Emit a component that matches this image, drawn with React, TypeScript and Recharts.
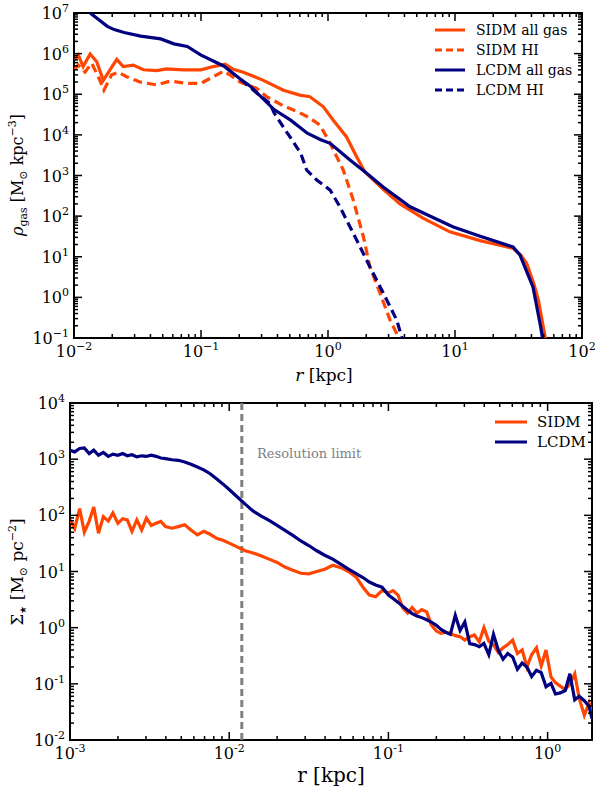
import { LineChart, Line, XAxis, YAxis, ReferenceLine, ReferenceArea } from 'recharts'

const SIDM_COLOR = '#ff4500'
const LCDM_COLOR = '#000080'
const FONT = '"DejaVu Serif", serif'

// top panel: gas density profiles, r [kpc] vs rho [Msun kpc^-3]
const sidmGasR = [0.01, 0.0108, 0.0118, 0.0134, 0.0151, 0.017, 0.0217, 0.0244, 0.0293, 0.0352, 0.0448, 0.0537, 0.0726, 0.1, 0.125, 0.155, 0.18, 0.215, 0.31, 0.445, 0.6, 0.72, 0.92, 1.1, 1.4, 1.68, 1.95, 2.72, 3.69, 5.6, 9.1, 15.8, 28.8, 33, 36.7, 41.7, 45.4, 51.2, 53.7]
const sidmGasRho = [7.1e5, 9.3e5, 4.8e5, 9.8e5, 6.3e5, 2.2e5, 7.2e5, 4.8e5, 5.2e5, 4.0e5, 3.8e5, 4.2e5, 4.0e5, 4.0e5, 4.8e5, 5.5e5, 4.1e5, 3.5e5, 2.2e5, 1.26e5, 9.5e4, 8.7e4, 4.9e4, 2.3e4, 8.9e3, 2.9e3, 1.23e3, 460, 200, 89, 41, 25, 16, 11, 6.8, 2.2, 0.85, 0.107, 0.05]

const sidmHIR = [0.01, 0.0108, 0.0122, 0.0138, 0.016, 0.0172, 0.0198, 0.0223, 0.026, 0.0331, 0.0448, 0.057, 0.077, 0.1, 0.125, 0.15, 0.169, 0.203, 0.274, 0.329, 0.445, 0.6, 0.72, 0.865, 1.04, 1.32, 1.58, 1.9, 2.14, 2.57, 3.08, 3.58, 3.8]
const sidmHIRho = [4.0e5, 5.2e5, 3.5e5, 5.8e5, 2.2e5, 1.26e5, 3.0e5, 3.5e5, 2.7e5, 2.0e5, 1.7e5, 2.1e5, 1.86e5, 1.86e5, 2.7e5, 3.7e5, 3.0e5, 2.0e5, 1.4e5, 8.7e4, 5.2e4, 3.5e4, 2.6e4, 1.74e4, 6.2e3, 1.35e3, 250, 31, 5.6, 1.26, 0.275, 0.107, 0.063]

const lcdmGasR = [0.01, 0.0134, 0.0183, 0.0207, 0.0248, 0.0335, 0.0482, 0.0612, 0.078, 0.0993, 0.126, 0.152, 0.206, 0.243, 0.295, 0.376, 0.508, 0.687, 0.877, 1.04, 1.49, 1.95, 2.72, 4.43, 9.6, 15.8, 28.6, 32.5, 41.1, 47.3, 50]
const lcdmGasRho = [1.8e7, 1.0e7, 4.7e6, 3.9e6, 3.3e6, 2.7e6, 2.3e6, 1.74e6, 1.5e6, 9.3e5, 6.5e5, 4.9e5, 2.3e5, 1.6e5, 8.9e4, 4.2e4, 2.3e4, 1.1e4, 7.6e3, 6.2e3, 2.4e3, 1.23e3, 520, 170, 55, 32, 17.4, 11, 1.8, 0.186, 0.063]

const lcdmHIR = [0.206, 0.295, 0.349, 0.376, 0.479, 0.502, 0.61, 0.68, 0.815, 1.04, 1.24, 1.68, 2.14, 2.73, 3.48, 3.8, 3.98]
const lcdmHIRho = [2.3e5, 8.9e4, 6.0e4, 3.5e4, 1.1e4, 8.9e3, 3.5e3, 1.35e3, 776, 437, 170, 26, 5.6, 1.26, 0.275, 0.107, 0.063]

// bottom panel: stellar surface density, r [kpc] vs Sigma [Msun pc^-2]
const starR = [
  0.001, 0.00107, 0.00115, 0.00123, 0.00132, 0.00141, 0.00151, 0.00162, 0.00174, 0.00186,
  0.002, 0.00214, 0.00229, 0.00245, 0.00263, 0.00282, 0.00302, 0.00324, 0.00347, 0.00372,
  0.00398, 0.00437, 0.00479, 0.00525, 0.00575, 0.00631, 0.00692, 0.00759, 0.00832, 0.00912,
  0.01, 0.0112, 0.0126, 0.0141, 0.0158, 0.0178, 0.02, 0.0224, 0.0251, 0.0282,
  0.0316, 0.0355, 0.0398, 0.0447, 0.0501, 0.0562, 0.0631, 0.0692, 0.0759, 0.0832,
  0.0912, 0.1, 0.107, 0.115, 0.123, 0.132, 0.141, 0.151, 0.162, 0.174,
  0.186, 0.2, 0.214, 0.229, 0.245, 0.263, 0.282, 0.302, 0.324, 0.347,
  0.372, 0.398, 0.427, 0.457, 0.49, 0.525, 0.562, 0.603, 0.646, 0.692,
  0.741, 0.794, 0.851, 0.912, 0.977, 1.05, 1.12, 1.2, 1.29, 1.38,
  1.48, 1.58, 1.7, 1.82, 1.9,
]
const sidmStar = [
  83, 58, 132, 50, 79, 141, 48, 95, 79, 110,
  72, 87, 83, 52, 83, 55, 89, 66, 72, 78,
  63, 59, 63, 68, 55, 45, 52, 46, 39, 36,
  32, 27.5, 23.4, 21.4, 19.1, 16.6, 14.5, 12.0, 10.5, 9.3,
  9.1, 10.0, 11.0, 12.9, 11.7, 10.0, 7.8, 5.25, 3.8, 3.55,
  4.57, 4.17, 4.57, 3.8, 2.24, 1.82, 2.29, 1.82, 2.09, 1.91,
  1.12, 0.87, 0.79, 0.83, 0.79, 0.72, 0.69, 0.6, 0.69, 0.74,
  0.56, 1.0, 0.575, 0.5, 0.363, 0.437, 0.5, 0.6, 0.347, 0.4,
  0.2, 0.33, 0.437, 0.209, 0.4, 0.132, 0.105, 0.091, 0.079, 0.1,
  0.151, 0.055, 0.0275, 0.046, 0.03,
]
const lcdmStar = [
  1445, 1349, 1549, 1585, 1259, 1445, 1175, 1318, 1122, 1230,
  1175, 1259, 1148, 1202, 1096, 1148, 1122, 1175, 1122, 1047,
  1023, 977, 955, 891, 813, 724, 646, 550, 447, 363,
  288, 214, 158, 120, 98, 81, 66, 54, 44, 35,
  29, 23.4, 19.5, 16.6, 13.5, 11.0, 9.1, 7.8, 6.5, 5.75,
  5.25, 3.8, 3.31, 2.82, 2.4, 2.04, 1.78, 1.62, 1.51, 1.38,
  1.26, 1.1, 0.93, 0.83, 0.76, 1.66, 0.89, 1.26, 0.52, 0.5,
  0.457, 0.525, 0.33, 0.76, 0.4, 0.275, 0.347, 0.3, 0.182, 0.234,
  0.2, 0.135, 0.174, 0.158, 0.089, 0.102, 0.066, 0.069, 0.076, 0.151,
  0.052, 0.06, 0.05, 0.04, 0.024,
]

const resolutionLimit = 0.012

const toPoints = (r: number[], v: number[]) => r.map((x, i) => ({ r: x, v: v[i] }))

// 1..9 x 10^k tick positions inside [lo, hi]
function logTicks(lo: number, hi: number) {
  const out: number[] = []
  for (let e = Math.floor(Math.log10(lo)); e <= Math.ceil(Math.log10(hi)); e++) {
    for (let m = 1; m < 10; m++) {
      const t = parseFloat((m * Math.pow(10, e)).toPrecision(3))
      if (t >= lo * 0.999 && t <= hi * 1.001) out.push(t)
    }
  }
  return out
}

function decade(v: number) {
  const lg = Math.log10(v)
  const e = Math.round(lg)
  return { e, major: Math.abs(lg - e) < 1e-6 }
}

function XTick(props: any) {
  const { x, y, payload, top, minus } = props
  const { e, major } = decade(payload.value)
  const len = major ? 8 : 4
  return (
    <g>
      <line x1={x} y1={y} x2={x} y2={y - len} stroke="#000" strokeWidth={1.5} />
      <line x1={x} y1={top} x2={x} y2={top + len} stroke="#000" strokeWidth={1.5} />
      {major && (
        <text x={x} y={y + 19} textAnchor="middle" fontFamily={FONT} fontSize={16} fill="#000">
          10<tspan dy={-7} fontSize={11}>{e < 0 ? minus + -e : String(e)}</tspan>
        </text>
      )}
    </g>
  )
}

function YTick(props: any) {
  const { x, y, payload, right, minus } = props
  const { e, major } = decade(payload.value)
  const len = major ? 8 : 4
  return (
    <g>
      <line x1={x} y1={y} x2={x + len} y2={y} stroke="#000" strokeWidth={1.5} />
      <line x1={right} y1={y} x2={right - len} y2={y} stroke="#000" strokeWidth={1.5} />
      {major && (
        <text x={x - 5} y={y + 6} textAnchor="end" fontFamily={FONT} fontSize={16} fill="#000">
          10<tspan dy={-7} fontSize={11}>{e < 0 ? minus + -e : String(e)}</tspan>
        </text>
      )}
    </g>
  )
}

const gasSeries = [
  { name: 'SIDM all gas', color: SIDM_COLOR, dash: undefined, data: toPoints(sidmGasR, sidmGasRho) },
  { name: 'SIDM HI', color: SIDM_COLOR, dash: '9 5', data: toPoints(sidmHIR, sidmHIRho) },
  { name: 'LCDM all gas', color: LCDM_COLOR, dash: undefined, data: toPoints(lcdmGasR, lcdmGasRho) },
  { name: 'LCDM HI', color: LCDM_COLOR, dash: '9 5', data: toPoints(lcdmHIR, lcdmHIRho) },
]

const starSeries = [
  { name: 'SIDM', color: SIDM_COLOR, data: toPoints(starR, sidmStar) },
  { name: 'LCDM', color: LCDM_COLOR, data: toPoints(starR, lcdmStar) },
]

function GasPanel() {
  const xDom: [number, number] = [0.01, 100]
  const yDom: [number, number] = [0.1, 1e7]
  return (
    <LineChart width={598} height={400} margin={{ top: 13, right: 16, bottom: 0, left: 0 }}>
      <XAxis
        dataKey="r" type="number" scale="log" domain={xDom} allowDataOverflow
        ticks={logTicks(0.01, 100)} interval={0} height={62}
        axisLine={false} tickLine={false} tickSize={0} tickMargin={0}
        tick={<XTick top={13} minus={'\u2212'} />}
      />
      <YAxis
        dataKey="v" type="number" scale="log" domain={yDom} allowDataOverflow
        ticks={logTicks(0.1, 1e7)} interval={0} width={74}
        axisLine={false} tickLine={false} tickSize={0} tickMargin={0}
        tick={<YTick right={582} minus={'\u2212'} />}
      />
      {gasSeries.map((s) => (
        <Line
          key={s.name} data={s.data} dataKey="v" type="linear" stroke={s.color}
          strokeWidth={3.2} strokeDasharray={s.dash} dot={false} isAnimationActive={false}
        />
      ))}
      <ReferenceArea x1={xDom[0]} x2={xDom[1]} y1={yDom[0]} y2={yDom[1]} fill="none" stroke="#000" strokeWidth={2} ifOverflow="visible" />
    </LineChart>
  )
}

function StarPanel() {
  const xDom: [number, number] = [0.001, 1.9]
  const yDom: [number, number] = [0.01, 1e4]
  return (
    <LineChart width={598} height={400} margin={{ top: 13, right: 6, bottom: 0, left: 0 }}>
      <XAxis
        dataKey="r" type="number" scale="log" domain={xDom} allowDataOverflow
        ticks={logTicks(0.001, 1.9)} interval={0} height={50}
        axisLine={false} tickLine={false} tickSize={0} tickMargin={0}
        tick={<XTick top={13} minus="-" />}
      />
      <YAxis
        dataKey="v" type="number" scale="log" domain={yDom} allowDataOverflow
        ticks={logTicks(0.01, 1e4)} interval={0} width={70}
        axisLine={false} tickLine={false} tickSize={0} tickMargin={0}
        tick={<YTick right={592} minus="-" />}
      />
      <ReferenceLine x={resolutionLimit} stroke="#808080" strokeWidth={3} strokeDasharray="7 4" />
      {starSeries.map((s) => (
        <Line
          key={s.name} data={s.data} dataKey="v" type="linear" stroke={s.color}
          strokeWidth={3.2} dot={false} isAnimationActive={false}
        />
      ))}
      <ReferenceArea x1={xDom[0]} x2={xDom[1]} y1={yDom[0]} y2={yDom[1]} fill="none" stroke="#000" strokeWidth={2} ifOverflow="visible" />
    </LineChart>
  )
}

export default function App() {
  return (
    <div style={{ position: 'absolute', left: 0, top: 0, width: 598, height: 790, background: '#fff' }}>
      <div style={{ position: 'absolute', left: 0, top: 0 }}>
        <GasPanel />
      </div>
      <div style={{ position: 'absolute', left: 0, top: 390 }}>
        <StarPanel />
      </div>
      <svg width={598} height={790} style={{ position: 'absolute', left: 0, top: 0, pointerEvents: 'none' }} fontFamily={FONT}>
        {/* top legend */}
        {gasSeries.map((s, i) => (
          <g key={s.name}>
            <line x1={435} x2={465} y1={30 + i * 20} y2={30 + i * 20} stroke={s.color} strokeWidth={3} strokeDasharray={s.dash ? '7 4' : undefined} />
            <text x={476} y={35 + i * 20} fontSize={14} fill="#000">{s.name}</text>
          </g>
        ))}
        {/* bottom legend */}
        {starSeries.map((s, i) => (
          <g key={s.name}>
            <line x1={495} x2={527} y1={422 + i * 20} y2={422 + i * 20} stroke={s.color} strokeWidth={3} />
            <text x={537} y={427 + i * 20} fontSize={15} fill="#000">{s.name}</text>
          </g>
        ))}
        <text x={257} y={458} fontSize={13} fill="#808080">Resolution limit</text>
        {/* axis titles */}
        <text x={324} y={381} fontSize={17} textAnchor="middle" fill="#000">
          <tspan fontStyle="italic">r</tspan> [kpc]
        </text>
        <text x={331} y={782} fontSize={20} textAnchor="middle" fill="#000">r [kpc]</text>
        <text transform="translate(23,175) rotate(-90)" fontSize={16} textAnchor="middle" fill="#000">
          <tspan fontStyle="italic">ρ</tspan>
          <tspan fontSize={11} dy={4}>gas</tspan>
          <tspan dy={-4}> [M</tspan>
          <tspan fontSize={11} dy={4}>⊙</tspan>
          <tspan dy={-4}> kpc</tspan>
          <tspan fontSize={11} dy={-7}>−3</tspan>
          <tspan dy={7}>]</tspan>
        </text>
        <text transform="translate(23,572) rotate(-90)" fontSize={17} textAnchor="middle" fill="#000">
          Σ<tspan fontSize={9} dy={3}>★</tspan>
          <tspan dy={-3}> [M</tspan>
          <tspan fontSize={11} dy={4}>⊙</tspan>
          <tspan dy={-4}> pc</tspan>
          <tspan fontSize={11} dy={-7}>−2</tspan>
          <tspan dy={7}>]</tspan>
        </text>
      </svg>
    </div>
  )
}
